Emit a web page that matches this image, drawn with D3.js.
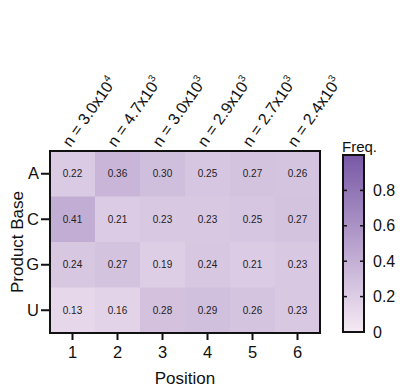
<!DOCTYPE html>
<html>
<head>
<meta charset="utf-8">
<script src="https://cdn.jsdelivr.net/npm/d3@7"></script>
<style>
  html, body { margin: 0; padding: 0; background: #fff; }
  svg { display: block; font-family: "Liberation Sans", Arial, Helvetica, sans-serif; }
</style>
</head>
<body>
<svg id="chart" width="400" height="391"></svg>
<script>
// Product base frequencies by position
const bases = ["A", "C", "G", "U"];
const positions = [1, 2, 3, 4, 5, 6];
const freqA = [0.22, 0.36, 0.30, 0.25, 0.27, 0.26];
const freqC = [0.41, 0.21, 0.23, 0.23, 0.25, 0.27];
const freqG = [0.24, 0.27, 0.19, 0.24, 0.21, 0.23];
const freqU = [0.13, 0.16, 0.28, 0.29, 0.26, 0.23];
const countMantissa = ["3.0", "4.7", "3.0", "2.9", "2.7", "2.4"];
const countExponent = ["4", "3", "3", "3", "3", "3"];
const colorbarTicks = [0, 0.2, 0.4, 0.6, 0.8];

const rows = [freqA, freqC, freqG, freqU];
const cells = [];
bases.forEach((b, i) => positions.forEach((p, j) => cells.push({ base: b, pos: p, value: rows[i][j] })));

const svg = d3.select("#chart");
const plot = { left: 50, right: 320, top: 151, bottom: 333 };

const x = d3.scaleBand().domain(positions).range([plot.left, plot.right]);
const y = d3.scaleBand().domain(bases).range([plot.top, plot.bottom]);
const color = d3.scaleLinear().domain([0, 1]).range(["#f6eaf4", "#7858a6"]).interpolate(d3.interpolateRgb);

// heatmap cells
svg.append("g").selectAll("rect").data(cells).join("rect")
  .attr("x", d => x(d.pos)).attr("y", d => y(d.base))
  .attr("width", x.bandwidth() + 0.5).attr("height", y.bandwidth() + 0.5)
  .attr("fill", d => color(d.value));

svg.append("g").selectAll("text").data(cells).join("text")
  .attr("x", d => x(d.pos) + x.bandwidth() / 2)
  .attr("y", d => y(d.base) + y.bandwidth() / 2)
  .attr("dy", "0.35em").attr("text-anchor", "middle")
  .attr("font-size", 10).attr("fill", "#222")
  .text(d => d.value.toFixed(2));

svg.append("rect")
  .attr("x", plot.left).attr("y", plot.top)
  .attr("width", plot.right - plot.left).attr("height", plot.bottom - plot.top)
  .attr("fill", "none").attr("stroke", "#111").attr("stroke-width", 2);

// axes
const xAxis = svg.append("g").attr("transform", `translate(0,${plot.bottom + 1})`)
  .call(d3.axisBottom(x).tickSize(6).tickPadding(6));
const yAxis = svg.append("g").attr("transform", `translate(${plot.left - 1},0)`)
  .call(d3.axisLeft(y).tickSize(8).tickPadding(2));
[xAxis, yAxis].forEach(a => {
  a.select(".domain").remove();
  a.selectAll(".tick line").attr("stroke", "#111").attr("stroke-width", 2);
  a.selectAll(".tick text").attr("font-size", 16.5).attr("fill", "#111")
    .attr("font-family", "'Liberation Sans', Arial, sans-serif");
});

svg.append("text").attr("x", (plot.left + plot.right) / 2).attr("y", 384)
  .attr("text-anchor", "middle").attr("font-size", 17).attr("fill", "#111").text("Position");
svg.append("text").attr("transform", `translate(23,${(plot.top + plot.bottom) / 2}) rotate(-90)`)
  .attr("text-anchor", "middle").attr("font-size", 17).attr("fill", "#111").text("Product Base");

// sample sizes above each column
const nLabels = svg.append("g").selectAll("text").data(positions).join("text")
  .attr("transform", (d) => `translate(${x(d) + x.bandwidth() / 2 - 2},${plot.top - 3}) rotate(-55)`)
  .attr("font-size", 16).attr("fill", "#111");
nLabels.append("tspan").text((d, i) => `n = ${countMantissa[i]}x10`);
nLabels.append("tspan").attr("font-size", 10).attr("dy", -7).text((d, i) => countExponent[i]);

// colour bar
const cb = { x: 343, w: 21, top: 155, bottom: 332 };
const cScale = d3.scaleLinear().domain([0, 1]).range([cb.bottom, cb.top]);
const grad = svg.append("defs").append("linearGradient").attr("id", "freqGrad")
  .attr("x1", 0).attr("y1", 1).attr("x2", 0).attr("y2", 0);
grad.append("stop").attr("offset", "0%").attr("stop-color", color(0));
grad.append("stop").attr("offset", "100%").attr("stop-color", color(1));
svg.append("rect").attr("x", cb.x).attr("y", cb.top).attr("width", cb.w).attr("height", cb.bottom - cb.top)
  .attr("fill", "url(#freqGrad)").attr("stroke", "#111").attr("stroke-width", 2);
const cbTicks = svg.append("g").selectAll("g").data(colorbarTicks.filter(t => t > 0)).join("g");
cbTicks.append("line").attr("x1", cb.x).attr("x2", cb.x + 4)
  .attr("y1", d => cScale(d)).attr("y2", d => cScale(d)).attr("stroke", "#111").attr("stroke-width", 1.5);
cbTicks.append("line").attr("x1", cb.x + cb.w - 4).attr("x2", cb.x + cb.w)
  .attr("y1", d => cScale(d)).attr("y2", d => cScale(d)).attr("stroke", "#111").attr("stroke-width", 1.5);
svg.append("g").selectAll("text").data(colorbarTicks).join("text")
  .attr("x", 373).attr("y", d => cScale(d)).attr("dy", "0.35em")
  .attr("font-size", 16).attr("fill", "#111").text(d => d === 0 ? "0" : d.toFixed(1));
svg.append("text").attr("x", cb.x - 1).attr("y", cb.top - 3)
  .attr("font-size", 15).attr("fill", "#111").text("Freq.");
</script>
</body>
</html>
